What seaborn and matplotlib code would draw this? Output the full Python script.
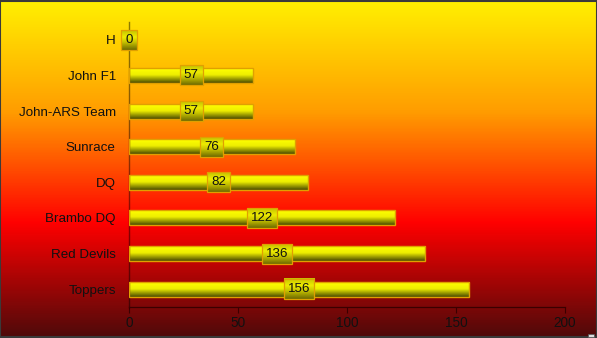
import numpy as np
import matplotlib
matplotlib.use('Agg')
import matplotlib.pyplot as plt
import seaborn as sns
import pandas as pd
from matplotlib.colors import LinearSegmentedColormap
from matplotlib.patches import Rectangle

teams = ["H", "John F1", "John-ARS Team", "Sunrace", "DQ", "Brambo DQ", "Red Devils", "Toppers"]
points = [0, 57, 57, 76, 82, 122, 136, 156]
x_ticks = [0, 50, 100, 150, 200]

sns.set_theme(style='white')
plt.rcParams['font.family'] = ['Liberation Sans', 'DejaVu Sans']

W, H = 597, 338
fig = plt.figure(figsize=(W / 100, H / 100), dpi=100)

# background gradient
bg = fig.add_axes([0, 0, 1, 1], zorder=-10)
bg_cmap = LinearSegmentedColormap.from_list(
    'bg', [(0, '#FFF000'), (0.33, '#FF9C00'), (0.66, '#FF0000'), (1, '#4E0A0A')])
grad = np.linspace(0, 1, 400).reshape(-1, 1)
bg.imshow(grad, cmap=bg_cmap, aspect='auto', extent=[0, 1, 0, 1], origin='upper')
bg.set_xlim(0, 1)
bg.set_ylim(0, 1)
bg.set_axis_off()
bg.add_patch(Rectangle((0.0008, 0.0015), 0.9984, 0.997, fill=False,
                       edgecolor='#3a3a3a', linewidth=1.5, transform=bg.transAxes))
bg.add_patch(Rectangle((588 / W, 1 - 337 / H), 6 / W, 3 / H, facecolor='#dddddd',
                       edgecolor='#555555', linewidth=0.5, transform=bg.transAxes))

ax = fig.add_axes([129 / W, 1 - 307 / H, 436 / W, 285 / H])
ax.patch.set_alpha(0)

df = pd.DataFrame({'team': teams, 'points': points})
sns.barplot(data=df, x='points', y='team', orient='h', ax=ax, width=0.42,
            color='yellow', edgecolor='#E0A000', linewidth=1.0, saturation=1)

bar_cmap = LinearSegmentedColormap.from_list(
    'bar', [(0, '#FFFF00'), (0.45, '#EEEE00'), (1, '#4A4A00')])
box_cmap = LinearSegmentedColormap.from_list(
    'box', [(0, '#C4C200'), (0.35, '#EEEC00'), (0.6, '#C8C400'), (1, '#6E6A00')])
bgrad = np.linspace(0, 1, 50).reshape(-1, 1)
for p in ax.patches:
    x0, y0, w, h = p.get_x(), p.get_y(), p.get_width(), p.get_height()
    if w <= 0:
        p.set_visible(False)
        continue
    im = ax.imshow(bgrad, cmap=bar_cmap, aspect='auto', origin='upper',
                   extent=[x0, x0 + w, y0 + h, y0], zorder=2)
    im.set_clip_path(p)
    p.set_facecolor('none')
    p.set_zorder(3)

texts = []
for i, v in enumerate(points):
    t = ax.text(v / 2, i, str(v), ha='center', va='center', fontsize=9.6, color='#111111',
                zorder=6, clip_on=False,
                bbox=dict(boxstyle='square,pad=0.3', fc='none', ec='#E0A000', lw=0.9))
    texts.append(t)

ax.set_xlim(0, 200)
ax.set_ylim(7.5, -0.5)
ax.set_xticks(x_ticks)
ax.set_xlabel('')
ax.set_ylabel('')
ax.tick_params(axis='x', direction='out', length=4, width=0.8, color='#3a0000',
               labelsize=9.8, labelcolor='#111111', pad=2.5, bottom=True)
ax.tick_params(axis='y', length=0, labelsize=9.6, labelcolor='#111111', pad=9.5)
for s in ['top', 'right']:
    ax.spines[s].set_visible(False)
ax.spines['left'].set_color('#000000')
ax.spines['left'].set_alpha(0.45)
ax.spines['left'].set_linewidth(1.0)
ax.spines['bottom'].set_color('#3a0000')
ax.spines['bottom'].set_linewidth(0.9)

# gradient fill behind the value boxes
fig.canvas.draw()
inv = ax.transData.inverted()
for t in texts:
    ext = t.get_bbox_patch().get_window_extent()
    (xa, ya), (xb, yb) = inv.transform([[ext.x0, ext.y0], [ext.x1, ext.y1]])
    im = ax.imshow(bgrad, cmap=box_cmap, aspect='auto', origin='upper',
                   extent=[xa, xb, ya, yb], zorder=5)
    im.set_clip_on(False)
ax.set_xlim(0, 200)
ax.set_ylim(7.5, -0.5)

fig.savefig('out.png', dpi=100)
